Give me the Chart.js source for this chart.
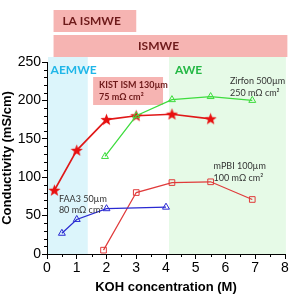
<!DOCTYPE html>
<html>
<head>
<meta charset="utf-8">
<script src="https://cdn.jsdelivr.net/npm/chart.js@4.4.0/dist/chart.umd.min.js"></script>
<style>
  body { margin: 0; background: #fff; }
</style>
</head>
<body>
<canvas id="myChart" width="298" height="300"></canvas>
<script>
'use strict';

// KOH concentration (M) and conductivity (mS/cm) per membrane
let kistX = [0.25, 1, 2, 3, 4.2, 5.5];
let kistY = [83, 135, 175, 180, 182, 176];
let zirfonX = [1.95, 3, 4.2, 5.5, 6.9];
let zirfonY = [127, 180, 201, 205, 200];
let faaX = [0.5, 1, 2, 4];
let faaY = [27, 45, 59, 61];
let mpbiX = [1.9, 3, 4.2, 5.5, 6.9];
let mpbiY = [5, 80, 93, 94, 71];
let xTicks = [0, 1, 2, 3, 4, 5, 6, 7, 8];
let yTicks = [0, 50, 100, 150, 200, 250];

function toPoints(xs, ys) {
  let pts = [];
  for (let i = 0; i < xs.length; i++) {
    pts.push({ x: xs[i], y: ys[i] });
  }
  return pts;
}

// filled red star marker
function makeStar() {
  let c = document.createElement('canvas');
  c.width = 13;
  c.height = 13;
  let g = c.getContext('2d');
  g.fillStyle = '#e81010';
  g.beginPath();
  for (let i = 0; i < 10; i++) {
    let r = i % 2 === 0 ? 6.4 : 2.7;
    let a = -Math.PI / 2 + i * Math.PI / 5;
    let px = 6.5 + r * Math.cos(a);
    let py = 6.9 + r * Math.sin(a);
    if (i === 0) g.moveTo(px, py); else g.lineTo(px, py);
  }
  g.closePath();
  g.fill();
  return c;
}

const labelFont = '"Lato", "Open Sans", sans-serif';

const decorations = {
  id: 'decorations',
  beforeDatasetsDraw(chart) {
    let ctx = chart.ctx;
    let xs = chart.scales.x;
    let area = chart.chartArea;
    ctx.save();
    // AEMWE region
    ctx.fillStyle = '#dcf5fb';
    ctx.fillRect(xs.getPixelForValue(0) + 1, area.top - 5, xs.getPixelForValue(1.37) - xs.getPixelForValue(0) - 1, area.bottom - area.top + 5);
    // AWE region
    ctx.fillStyle = '#e6fae7';
    ctx.fillRect(xs.getPixelForValue(4.1), area.top - 5, xs.getPixelForValue(8.03) - xs.getPixelForValue(4.1), area.bottom - area.top + 5);
    // pink boxes
    ctx.fillStyle = '#f6b4b2';
    ctx.fillRect(xs.getPixelForValue(0.22), area.top - 52, xs.getPixelForValue(3.0) - xs.getPixelForValue(0.22), 22);
    ctx.fillRect(xs.getPixelForValue(0.22), area.top - 27, xs.getPixelForValue(8.08) - xs.getPixelForValue(0.22), 22);
    ctx.fillRect(xs.getPixelForValue(1.55), area.top + 15, xs.getPixelForValue(3.9) - xs.getPixelForValue(1.55), 28);
    ctx.restore();
  },
  afterDraw(chart) {
    let ctx = chart.ctx;
    let xs = chart.scales.x;
    let ys = chart.scales.y;
    let area = chart.chartArea;
    ctx.save();
    // minor ticks
    ctx.strokeStyle = '#000';
    ctx.lineWidth = 1;
    ctx.beginPath();
    for (let v = 10; v < 250; v += 10) {
      if (v % 50 === 0) continue;
      let py = Math.round(ys.getPixelForValue(v)) + 0.5;
      ctx.moveTo(area.left - 3, py);
      ctx.lineTo(area.left, py);
    }
    for (let v = 0.5; v < 8; v += 1) {
      let px = Math.round(xs.getPixelForValue(v)) + 0.5;
      ctx.moveTo(px, area.bottom);
      ctx.lineTo(px, area.bottom + 3);
    }
    ctx.stroke();

    ctx.textBaseline = 'middle';
    ctx.textAlign = 'center';
    ctx.fillStyle = '#6e1a1a';
    ctx.font = 'bold 12px ' + labelFont;
    ctx.fillText('LA ISMWE', xs.getPixelForValue(1.5), area.top - 41);
    ctx.fillText('ISMWE', xs.getPixelForValue(3.75), area.top - 16);

    ctx.textAlign = 'left';
    ctx.fillStyle = '#1fb6e8';
    ctx.fillText('AEMWE', xs.getPixelForValue(0.12), area.top + 8);
    ctx.fillStyle = '#24b845';
    ctx.fillText('AWE', xs.getPixelForValue(4.3), area.top + 8);

    ctx.fillStyle = '#6e1a1a';
    ctx.font = 'bold 9px ' + labelFont;
    ctx.fillText('KIST ISM 130µm', xs.getPixelForValue(1.75), area.top + 23);
    ctx.fillText('75 mΩ cm²', xs.getPixelForValue(1.75), area.top + 35);

    ctx.fillStyle = '#333';
    ctx.font = '9px ' + labelFont;
    ctx.fillText('Zirfon 500µm', xs.getPixelForValue(6.15), area.top + 19);
    ctx.fillText('250 mΩ cm²', xs.getPixelForValue(6.15), area.top + 31);
    ctx.fillText('mPBI 100µm', xs.getPixelForValue(5.6), ys.getPixelForValue(114));
    ctx.fillText('100 mΩ cm²', xs.getPixelForValue(5.6), ys.getPixelForValue(99));
    ctx.fillText('FAA3 50µm', xs.getPixelForValue(0.4), ys.getPixelForValue(71));
    ctx.fillText('80 mΩ cm²', xs.getPixelForValue(0.4), ys.getPixelForValue(57));
    ctx.restore();
  }
};

const data = {
  datasets: [{
    label: 'FAA3',
    data: toPoints(faaX, faaY),
    borderColor: '#2a2ad2',
    borderWidth: 1.2,
    pointStyle: 'triangle',
    pointRadius: 4,
    pointBorderWidth: 1,
    pointBackgroundColor: 'rgba(255,255,255,0)'
  }, {
    label: 'mPBI',
    data: toPoints(mpbiX, mpbiY),
    borderColor: '#e03a3a',
    borderWidth: 1.2,
    pointStyle: 'rect',
    pointRadius: 4,
    pointBorderWidth: 1,
    pointBackgroundColor: 'rgba(255,255,255,0)'
  }, {
    label: 'Zirfon',
    data: toPoints(zirfonX, zirfonY),
    borderColor: '#3ddc3d',
    borderWidth: 1.2,
    pointStyle: 'triangle',
    pointRadius: 4,
    pointBorderWidth: 1,
    pointBackgroundColor: 'rgba(255,255,255,0)'
  }, {
    label: 'KIST ISM',
    data: toPoints(kistX, kistY),
    borderColor: '#e01818',
    borderWidth: 1.6,
    pointStyle: makeStar(),
    pointRadius: 6
  }]
};

const config = {
  type: 'line',
  data: data,
  plugins: [decorations],
  options: {
    responsive: false,
    animation: false,
    layout: {
      padding: { top: 62, right: 13, left: 0, bottom: 0 }
    },
    plugins: {
      legend: { display: false },
      tooltip: { enabled: false }
    },
    scales: {
      x: {
        type: 'linear',
        min: 0,
        max: 8,
        afterFit: function (s) { s.height = 46; },
        afterBuildTicks: function (s) { s.ticks = xTicks.map(v => ({ value: v })); },
        grid: { drawOnChartArea: false, tickLength: 5, color: '#000' },
        border: { color: '#000' },
        ticks: {
          color: '#000',
          padding: 1,
          font: { family: '"Liberation Sans", Arial', size: 14 }
        },
        title: {
          display: true,
          text: 'KOH concentration (M)',
          color: '#000',
          padding: { top: 4, bottom: 5 },
          font: { family: '"Liberation Sans", Arial', size: 13, weight: 'bold' }
        }
      },
      y: {
        min: 0,
        max: 250,
        afterFit: function (s) { s.width = 47; },
        afterBuildTicks: function (s) { s.ticks = yTicks.map(v => ({ value: v })); },
        grid: { drawOnChartArea: false, tickLength: 5, color: '#000' },
        border: { color: '#000' },
        ticks: {
          color: '#000',
          padding: 1,
          font: { family: '"Liberation Sans", Arial', size: 14 }
        },
        title: {
          display: true,
          text: 'Conductivity (mS/cm)',
          color: '#000',
          padding: { top: 0, bottom: 0 },
          font: { family: '"Liberation Sans", Arial', size: 13, weight: 'bold' }
        }
      }
    }
  }
};

const myChart = new Chart(document.getElementById('myChart'), config);
</script>
</body>
</html>
